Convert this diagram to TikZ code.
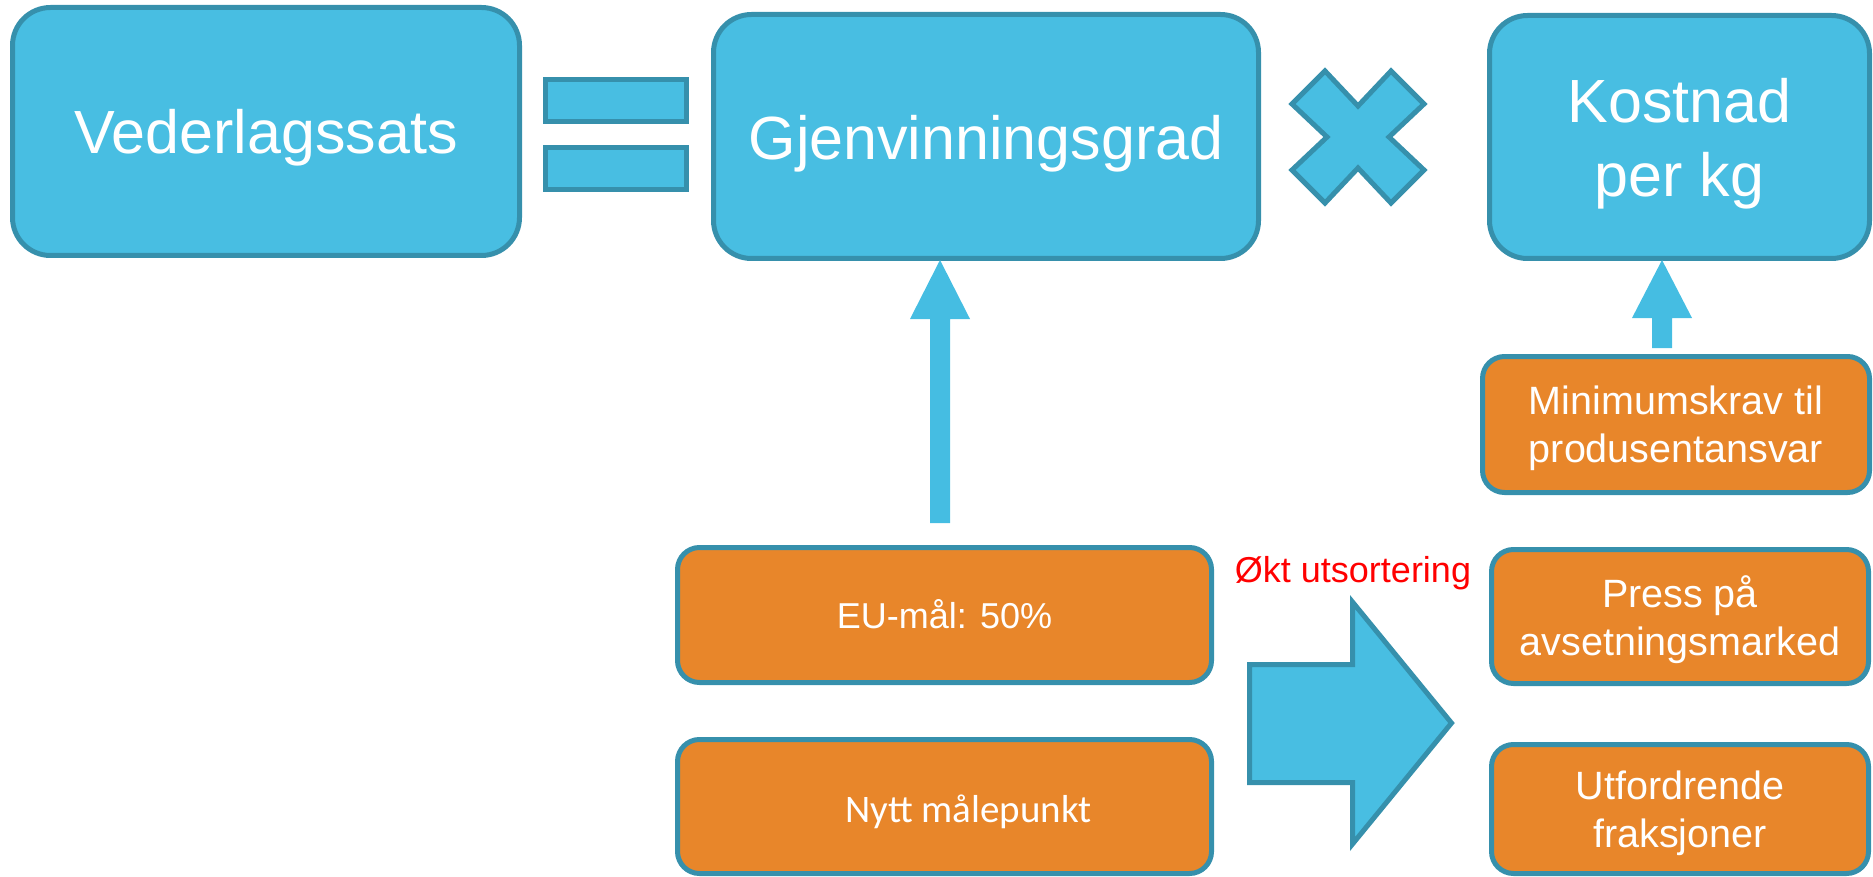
\documentclass[tikz,border=0pt]{standalone}
\usepackage{fontspec}
\setmainfont{Liberation Sans}
\newfontfamily\carlito{Carlito}
\definecolor{bluec}{HTML}{48BEE2}
\definecolor{arrowc}{HTML}{45BDE2}
\definecolor{strokec}{HTML}{3690AC}
\definecolor{orangec}{HTML}{E8862A}
\definecolor{redc}{HTML}{FF0000}
\begin{document}
\begin{tikzpicture}[x=1pt,y=-1pt,
  bluebox/.style={draw=strokec, fill=bluec, line width=5pt, rounded corners=38pt,
    text=white, inner sep=0pt, outer sep=0pt},
  orangebox/.style={draw=strokec, fill=orangec, line width=5pt, rounded corners=22pt,
    text=white, inner sep=0pt, outer sep=0pt, minimum width=534pt},
  sidebox/.style={draw=strokec, fill=orangec, line width=5pt, rounded corners=22pt,
    text=white, inner sep=0pt, outer sep=0pt, align=center,
    font=\fontsize{39.5}{48}\selectfont},
  bigfont/.style={font=\fontsize{61}{74}\selectfont},
  shapeline/.style={draw=strokec, fill=bluec, line width=5pt, miter limit=10},
  blockarrow/.style={fill=arrowc}]
\useasboundingbox (0,0) rectangle (1873,877);

% top row
\node[bluebox, bigfont, minimum width=507pt, minimum height=248pt,
  text height=45pt, text depth=0pt] (veder) at (266,131.5) {Vederlagssats};
\node[bluebox, bigfont, minimum width=545pt, minimum height=244pt,
  text height=47pt, text depth=0pt] (gjen) at (986,136.5) {Gjenvinningsgrad};
\node[bluebox, bigfont, minimum width=380pt, minimum height=243pt, align=center,
  text height=120pt, text depth=0pt] (kost) at (1679.5,137) {Kostnad\\per kg};

% equals sign
\draw[shapeline] (545.5,79.5) rectangle (686.5,121.5);
\draw[shapeline] (545.5,147.5) rectangle (686.5,189.5);

% times sign
\begin{scope}[shift={(1358,137)}]
\draw[shapeline] (-66,-33) -- (-33,-66) -- (0,-31) -- (33,-66) -- (66,-33)
  -- (31,0) -- (66,33) -- (33,66) -- (0,31) -- (-33,66) -- (-66,33) -- (-31,0) -- cycle;
\end{scope}

% up arrow to Gjenvinningsgrad
\fill[blockarrow] (930,523) -- (930,319) -- (910,319) -- (940,260)
  -- (970,319) -- (950,319) -- (950,523) -- cycle;

% up arrow to Kostnad per kg
\fill[blockarrow] (1652,348) -- (1652,318) -- (1632,318) -- (1662,260)
  -- (1692,318) -- (1672,318) -- (1672,348) -- cycle;

% orange boxes middle
\node[orangebox, minimum height=135pt, text height=26pt, text depth=0pt,
  font=\fontsize{36}{43}\selectfont] (eu) at (944.5,615) {EU-mål: 50\%};
\node[orangebox, minimum height=134pt, text height=31pt, text depth=0pt,
  font=\carlito\fontsize{39}{47}\selectfont] (nytt) at (944.5,806.5)
  {\hspace*{48pt}Nytt målepunkt};

% right side boxes
\node[sidebox, minimum width=387pt, minimum height=136pt,
  text height=75pt, text depth=0pt] (mini) at (1676,424.5)
  {Minimumskrav til\\produsentansvar};
\node[sidebox, minimum width=377pt, minimum height=134pt,
  text height=77pt, text depth=0pt] (press) at (1680,616.5)
  {Press på\\avsetningsmarked};
\node[sidebox, minimum width=377pt, minimum height=129pt,
  text height=76pt, text depth=0pt] (utf) at (1680,809)
  {Utfordrende\\fraksjoner};

% big right arrow
\draw[shapeline, line join=miter] (1249.5,664.5) -- (1352.5,664.5) -- (1352.5,602)
  -- (1451.5,723) -- (1352.5,844) -- (1352.5,782.5) -- (1249.5,782.5) -- cycle;

% label
\node[anchor=base, inner sep=0pt, text=redc, font=\fontsize{36}{43}\selectfont]
  (okt) at (1353,582) {Økt utsortering};
\end{tikzpicture}
\end{document}
